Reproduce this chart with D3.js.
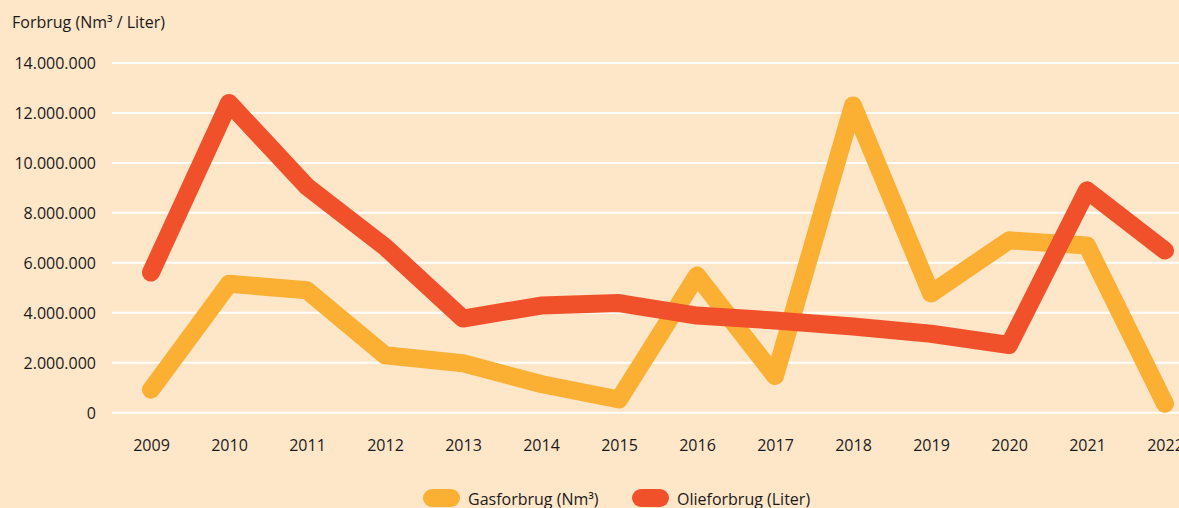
<!DOCTYPE html>
<html>
<head>
<meta charset="utf-8">
<script src="https://cdn.jsdelivr.net/npm/d3@7"></script>
<style>
  html, body { margin: 0; padding: 0; background: #FEE6C9; overflow: hidden; }
  svg { display: block; }
  text { font-family: "Open Sans", "Noto Sans", sans-serif; fill: #1a1a1a; }
</style>
</head>
<body>
<svg id="chart" width="1179" height="508"></svg>
<script>
const years = [2009, 2010, 2011, 2012, 2013, 2014, 2015, 2016, 2017, 2018, 2019, 2020, 2021, 2022];
const gasValues = [920000, 5160000, 4900000, 2300000, 1980000, 1150000, 530000, 5490000, 1470000, 12300000, 4770000, 6900000, 6690000, 360000];
const oilValues = [5610000, 12400000, 9050000, 6640000, 3770000, 4290000, 4390000, 3890000, 3690000, 3450000, 3160000, 2710000, 8900000, 6490000];
const yTicks = [0, 2000000, 4000000, 6000000, 8000000, 10000000, 12000000, 14000000];
const seriesNames = ["Gasforbrug (Nm³)", "Olieforbrug (Liter)"];
const seriesColors = ["#FBB034", "#F1512A"];
const yTitle = "Forbrug (Nm³ / Liter)";

const svg = d3.select("#chart");
const W = 1179, H = 508;
svg.append("rect").attr("width", W).attr("height", H).attr("fill", "#FEE6C9");

const x = d3.scalePoint().domain(years).range([151, 1165]);
const y = d3.scaleLinear().domain([0, 14000000]).range([412.7, 63]);

const loc = d3.formatLocale({ decimal: ",", thousands: ".", grouping: [3], currency: ["", ""] });
const fmt = loc.format(",d");
const FS = 16;

// gridlines
svg.append("g")
  .selectAll("line")
  .data(yTicks)
  .join("line")
  .attr("x1", 112).attr("x2", W + 50)
  .attr("y1", d => y(d)).attr("y2", d => y(d))
  .attr("stroke", "#ffffff").attr("stroke-width", 2);

// y axis labels
const yAxis = d3.axisLeft(y).tickValues(yTicks).tickFormat(fmt).tickSize(0).tickPadding(0);
const yg = svg.append("g").attr("transform", "translate(96,0)").call(yAxis);
yg.select(".domain").remove();
yg.selectAll("text").attr("font-size", FS).attr("font-family", "'Open Sans', sans-serif").attr("fill", "#1a1a1a").attr("dy", "0.35em");

// x axis labels
const xAxis = d3.axisBottom(x).tickSize(0).tickPadding(0).tickFormat(d => String(d));
const xg = svg.append("g").attr("transform", "translate(0,440)").call(xAxis);
xg.select(".domain").remove();
xg.selectAll("text").attr("font-size", FS).attr("font-family", "'Open Sans', sans-serif").attr("fill", "#1a1a1a").attr("dy", "0.71em");

// lines
const line = d3.line().x((d, i) => x(years[i])).y(d => y(d));
[gasValues, oilValues].forEach((vals, k) => {
  svg.append("path")
    .datum(vals)
    .attr("d", line)
    .attr("fill", "none")
    .attr("stroke", seriesColors[k])
    .attr("stroke-width", 18)
    .attr("stroke-linecap", "round")
    .attr("stroke-linejoin", "round");
});

// title
svg.append("text").attr("x", 12).attr("y", 28).attr("font-size", FS).text(yTitle);

// legend
const legendPos = [423, 632];
seriesNames.forEach((name, k) => {
  const g = svg.append("g").attr("transform", `translate(${legendPos[k]},489)`);
  g.append("rect").attr("width", 37).attr("height", 18).attr("rx", 9).attr("fill", seriesColors[k]);
  g.append("text").attr("x", 45).attr("y", 16).attr("font-size", FS).text(name);
});
</script>
</body>
</html>
